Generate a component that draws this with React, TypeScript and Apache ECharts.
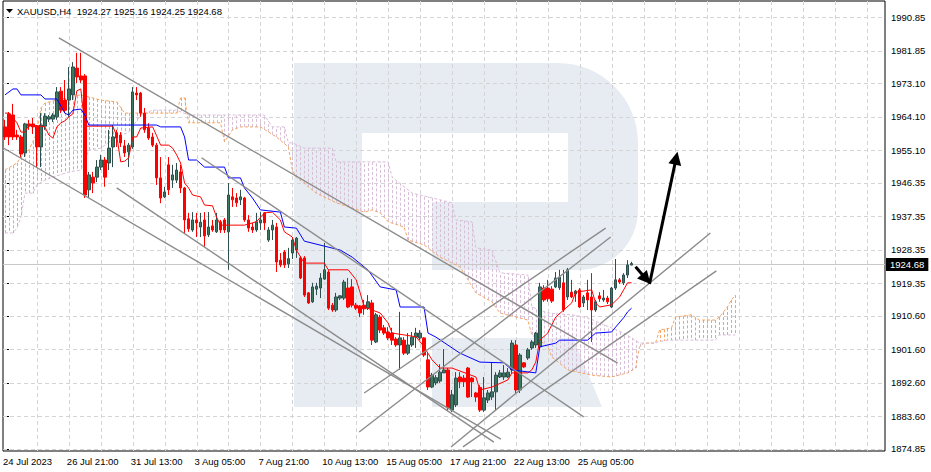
import React, { useEffect, useRef } from 'react';
import * as echarts from 'echarts';

const FONT = '"Liberation Sans", Arial, sans-serif';

const symbolName = 'XAUUSD,H4';

const xLabels = ['24 Jul 2023', '26 Jul 21:00', '31 Jul 13:00', '3 Aug 05:00', '7 Aug 21:00', '10 Aug 13:00', '15 Aug 05:00', '17 Aug 21:00', '22 Aug 13:00', '25 Aug 05:00'];
const xLabelBars = [0, 16, 32, 48, 64, 80, 96, 112, 128, 144];

const yTicks = [1990.85, 1981.85, 1973.1, 1964.1, 1955.1, 1946.35, 1937.35, 1928.35, 1919.35, 1910.6, 1901.6, 1892.6, 1883.6, 1874.85];

// [open, close, low, high]
const candles = [
  [1961.4, 1958.7, 1957.9, 1963.3], [1964.9, 1958.7, 1956.5, 1965.4], [1964.6, 1958.7, 1957.9, 1967.6], [1959.2, 1958.7, 1957.9, 1960.6],
  [1958.7, 1954.1, 1953.1, 1959.2], [1954.4, 1962.2, 1953.3, 1962.5], [1962.2, 1961.6, 1960.6, 1963.3], [1962.2, 1961.4, 1959.5, 1963.8],
  [1961.6, 1956.0, 1950.6, 1961.9], [1956.0, 1961.9, 1950.6, 1965.1], [1961.6, 1964.3, 1960.6, 1965.1], [1963.5, 1964.1, 1962.7, 1964.6],
  [1963.5, 1964.6, 1962.7, 1965.1], [1964.1, 1970.8, 1963.3, 1972.1], [1971.0, 1965.9, 1965.1, 1972.1], [1968.6, 1965.9, 1965.1, 1974.0],
  [1968.6, 1971.6, 1964.1, 1977.5], [1970.0, 1977.5, 1968.6, 1978.8], [1977.2, 1974.8, 1973.2, 1981.3], [1975.1, 1974.0, 1973.2, 1981.3],
  [1975.1, 1943.1, 1942.3, 1975.6], [1944.5, 1948.5, 1942.3, 1949.3], [1947.9, 1946.3, 1943.6, 1949.3], [1947.9, 1950.6, 1946.6, 1952.5],
  [1950.6, 1952.5, 1949.8, 1953.9], [1952.5, 1947.9, 1945.3, 1953.3], [1951.7, 1955.7, 1949.8, 1960.6], [1956.0, 1958.7, 1950.6, 1961.9],
  [1959.8, 1958.4, 1956.0, 1960.6], [1959.2, 1957.1, 1956.0, 1960.0], [1956.3, 1954.4, 1953.3, 1957.9], [1954.7, 1956.5, 1950.6, 1957.1],
  [1956.0, 1970.8, 1955.5, 1972.1], [1970.5, 1970.0, 1968.6, 1972.1], [1970.5, 1965.1, 1964.1, 1970.8], [1965.1, 1960.6, 1959.8, 1966.5],
  [1961.1, 1958.4, 1957.9, 1962.4], [1958.7, 1956.5, 1956.0, 1959.8], [1956.5, 1947.7, 1945.8, 1957.1], [1947.7, 1942.3, 1940.9, 1953.3],
  [1942.6, 1943.9, 1942.3, 1945.3], [1951.2, 1944.5, 1943.1, 1953.3], [1947.1, 1948.5, 1945.0, 1951.2], [1947.1, 1949.8, 1946.3, 1951.7],
  [1949.3, 1945.0, 1943.6, 1951.2], [1945.0, 1936.4, 1932.9, 1945.3], [1936.7, 1934.0, 1933.2, 1938.3], [1933.7, 1936.4, 1933.2, 1938.5],
  [1936.4, 1935.6, 1931.8, 1938.3], [1934.5, 1935.8, 1931.8, 1938.3], [1936.4, 1932.1, 1929.2, 1938.5], [1932.4, 1934.5, 1931.8, 1938.5],
  [1934.8, 1933.7, 1933.2, 1936.4], [1933.2, 1936.4, 1932.9, 1938.3], [1935.9, 1933.7, 1932.9, 1936.4], [1936.4, 1933.7, 1932.9, 1936.9],
  [1933.2, 1943.1, 1923.0, 1946.3], [1942.6, 1941.8, 1939.9, 1945.0], [1942.3, 1941.0, 1939.9, 1943.6], [1941.8, 1942.6, 1940.4, 1944.5],
  [1942.3, 1936.4, 1935.9, 1942.6], [1936.4, 1934.2, 1933.2, 1937.7], [1934.5, 1933.7, 1932.9, 1935.6], [1933.7, 1935.9, 1933.2, 1938.3],
  [1935.6, 1936.4, 1933.7, 1938.5], [1938.3, 1935.6, 1933.7, 1938.5], [1931.0, 1933.7, 1930.5, 1934.5], [1933.7, 1935.0, 1931.0, 1936.4],
  [1934.5, 1925.1, 1922.4, 1935.6], [1925.6, 1924.3, 1923.7, 1927.5], [1927.8, 1924.3, 1923.5, 1928.3], [1924.6, 1926.0, 1923.5, 1928.9],
  [1927.5, 1931.0, 1925.9, 1931.8], [1928.3, 1931.5, 1926.2, 1931.8], [1926.2, 1920.8, 1920.5, 1926.7], [1926.2, 1916.2, 1915.7, 1926.7],
  [1916.8, 1914.1, 1913.8, 1917.0], [1914.4, 1918.4, 1914.1, 1919.5], [1917.8, 1918.6, 1916.2, 1919.5], [1918.1, 1920.8, 1915.4, 1922.1],
  [1920.5, 1923.0, 1920.3, 1930.2], [1922.4, 1912.7, 1912.2, 1923.0], [1913.5, 1912.2, 1911.7, 1914.1], [1912.2, 1915.7, 1911.7, 1916.8],
  [1915.4, 1916.0, 1914.9, 1916.2], [1915.4, 1919.7, 1914.9, 1920.3], [1918.1, 1913.0, 1912.7, 1920.8], [1918.4, 1913.5, 1912.9, 1920.5],
  [1913.5, 1912.7, 1912.2, 1914.1], [1913.3, 1911.4, 1910.3, 1913.5], [1913.5, 1912.5, 1910.9, 1914.9], [1912.7, 1914.4, 1912.2, 1916.2],
  [1914.1, 1904.1, 1902.8, 1914.9], [1903.6, 1910.9, 1903.3, 1911.4], [1910.3, 1906.8, 1906.0, 1910.9], [1907.4, 1906.0, 1905.5, 1908.2],
  [1906.3, 1904.7, 1904.1, 1907.6], [1906.0, 1904.1, 1902.8, 1907.4], [1904.4, 1902.8, 1902.3, 1904.9], [1902.8, 1904.7, 1896.1, 1911.7],
  [1904.1, 1900.6, 1900.1, 1904.9], [1900.6, 1902.8, 1900.1, 1906.0], [1902.8, 1904.9, 1902.3, 1906.3], [1904.9, 1906.0, 1902.0, 1907.4],
  [1904.7, 1906.0, 1904.1, 1906.8], [1904.7, 1900.1, 1899.6, 1904.9], [1898.8, 1891.5, 1890.7, 1900.6], [1891.5, 1894.7, 1891.2, 1895.3],
  [1892.6, 1894.0, 1892.0, 1894.7], [1893.1, 1895.5, 1892.6, 1897.6], [1895.3, 1896.1, 1895.3, 1901.7], [1896.1, 1885.9, 1885.3, 1896.6],
  [1885.3, 1889.4, 1884.8, 1890.7], [1886.7, 1893.9, 1886.1, 1895.5], [1894.2, 1892.9, 1891.2, 1895.5], [1893.9, 1892.9, 1891.5, 1894.7],
  [1896.6, 1888.8, 1888.6, 1896.9], [1893.9, 1892.9, 1888.8, 1894.2], [1889.9, 1888.8, 1887.5, 1890.2], [1891.4, 1885.3, 1884.8, 1892.0],
  [1885.3, 1888.6, 1884.8, 1894.2], [1888.0, 1889.9, 1887.2, 1890.7], [1888.8, 1890.2, 1888.0, 1898.2], [1890.2, 1894.7, 1885.3, 1895.5],
  [1894.2, 1895.3, 1893.9, 1896.1], [1894.2, 1895.3, 1893.4, 1897.4], [1894.2, 1895.5, 1893.9, 1896.6], [1896.1, 1903.3, 1895.3, 1904.1],
  [1902.8, 1890.7, 1889.9, 1904.1], [1890.7, 1900.1, 1889.9, 1900.6], [1898.0, 1896.9, 1896.6, 1898.2], [1899.3, 1901.5, 1898.8, 1902.0],
  [1902.0, 1903.6, 1901.5, 1904.1], [1902.8, 1906.0, 1902.0, 1906.3], [1902.3, 1918.4, 1902.0, 1919.5], [1918.1, 1914.9, 1914.4, 1918.9],
  [1918.1, 1915.2, 1914.4, 1920.3], [1917.8, 1914.6, 1914.1, 1918.6], [1918.4, 1920.8, 1918.1, 1922.4], [1918.2, 1921.0, 1917.6, 1923.0],
  [1919.5, 1912.2, 1911.7, 1923.0], [1915.7, 1923.0, 1914.9, 1923.5], [1917.0, 1915.7, 1915.4, 1920.3], [1916.5, 1917.3, 1914.4, 1917.6],
  [1917.6, 1913.0, 1912.7, 1918.1], [1914.1, 1915.7, 1913.0, 1916.2], [1916.8, 1914.9, 1912.2, 1920.3], [1915.7, 1912.2, 1903.6, 1922.1],
  [1912.2, 1914.4, 1911.7, 1914.9], [1916.0, 1915.2, 1914.4, 1917.0], [1914.9, 1915.4, 1914.4, 1917.6], [1915.4, 1914.4, 1913.8, 1916.0],
  [1913.0, 1918.1, 1912.7, 1918.4], [1918.1, 1920.3, 1917.6, 1925.9], [1920.3, 1919.7, 1919.2, 1920.8], [1919.5, 1921.6, 1918.9, 1922.1],
  [1921.6, 1924.3, 1920.8, 1925.6], [1924.27, 1924.68, 1924.25, 1925.16],
];

// Ichimoku lines: [bar, price] vertices
const tenkan = [
  [0, 1965.1], [1, 1965.1], [3, 1962.5], [4, 1960.0], [5, 1960.0], [6, 1961.9], [7, 1961.9], [10, 1961.4], [11, 1959.2], [12, 1958.4],
  [13, 1961.4], [14, 1962.5], [15, 1963.0], [16, 1964.1], [17, 1964.9], [18, 1971.1], [19, 1971.6], [20, 1961.6], [27, 1961.6], [28, 1959.0],
  [29, 1952.0], [30, 1952.2], [31, 1953.1], [32, 1958.7], [33, 1958.7], [34, 1961.1], [37, 1961.4], [38, 1959.0], [39, 1956.5], [41, 1956.5],
  [42, 1955.7], [43, 1953.9], [44, 1951.7], [45, 1946.3], [46, 1945.0], [47, 1943.1], [49, 1942.6], [50, 1940.4], [52, 1940.2], [53, 1937.2],
  [54, 1935.0], [60, 1935.0], [63, 1935.9], [65, 1938.3], [67, 1938.5], [69, 1936.4], [70, 1933.2], [72, 1931.8], [73, 1928.3], [75, 1924.8],
  [80, 1924.8], [81, 1923.0], [86, 1923.0], [88, 1920.3], [89, 1916.8], [90, 1913.0], [94, 1911.4], [96, 1908.7], [97, 1906.0], [103, 1905.0],
  [105, 1902.3], [107, 1898.8], [109, 1896.6], [112, 1896.6], [118, 1894.2], [119, 1890.7], [122, 1891.5], [126, 1893.4], [127, 1895.3], [131, 1895.3],
  [132, 1896.1], [133, 1898.2], [134, 1904.1], [136, 1906.0], [138, 1910.3], [140, 1912.2], [142, 1914.1], [143, 1917.0], [147, 1917.6], [148, 1914.1],
  [149, 1913.0], [152, 1913.6], [154, 1915.7], [155, 1917.6], [156, 1919.5], [157, 1919.5],
];
const kijun = [
  [0, 1970.0], [2, 1971.6], [3, 1971.6], [4, 1970.0], [9, 1970.0], [10, 1968.9], [13, 1968.9], [15, 1965.1], [16, 1964.6], [17, 1965.9],
  [19, 1966.2], [20, 1964.6], [21, 1961.9], [38, 1961.9], [39, 1961.4], [44, 1961.4], [45, 1958.7], [46, 1952.5], [48, 1952.5], [50, 1950.6],
  [55, 1950.6], [56, 1947.7], [59, 1947.7], [60, 1945.0], [62, 1942.3], [64, 1939.1], [69, 1938.5], [70, 1934.5], [73, 1934.2], [75, 1930.7],
  [84, 1928.3], [87, 1926.4], [91, 1922.9], [94, 1918.4], [98, 1917.6], [99, 1913.0], [105, 1913.0], [106, 1906.0], [108, 1904.9], [114, 1900.6],
  [119, 1898.2], [125, 1898.0], [127, 1896.1], [133, 1895.3], [134, 1902.3], [138, 1903.3], [139, 1904.1], [146, 1904.1], [148, 1906.0], [152, 1906.3],
  [153, 1907.6], [155, 1910.1], [156, 1911.7], [157, 1912.7],
];
const spanA = [
  [0, 1949.8], [3, 1951.7], [4, 1953.3], [6, 1955.2], [8, 1959.8], [9, 1966.5], [10, 1967.8], [13, 1968.6], [16, 1969.4], [19, 1970.0],
  [24, 1968.6], [28, 1968.1], [30, 1965.1], [43, 1965.1], [44, 1969.2], [45, 1969.2], [46, 1962.5], [54, 1962.5], [55, 1957.4], [57, 1960.6],
  [59, 1961.4], [64, 1961.4], [68, 1958.7], [71, 1956.0], [72, 1949.8], [73, 1947.9], [78, 1943.6], [83, 1941.0], [90, 1938.5], [92, 1939.1],
  [94, 1938.3], [96, 1935.9], [100, 1934.5], [101, 1931.0], [105, 1929.7], [109, 1926.4], [114, 1923.8], [116, 1920.3], [118, 1916.8], [122, 1914.4],
  [124, 1911.4], [131, 1909.5], [132, 1905.5], [134, 1904.1], [136, 1902.3], [137, 1899.6], [141, 1896.1], [147, 1894.7], [152, 1894.2], [156, 1895.3],
  [158, 1896.6], [159, 1902.3], [160, 1903.3], [163, 1903.3], [164, 1906.8], [167, 1907.4], [168, 1910.3], [172, 1910.9], [174, 1909.5], [178, 1909.5],
  [179, 1910.3], [181, 1913.0], [182, 1914.9], [183, 1916.2],
];
const spanB = [
  [0, 1932.9], [2, 1932.9], [3, 1934.2], [4, 1937.2], [5, 1943.6], [7, 1943.6], [8, 1945.8], [10, 1947.1], [12, 1947.9], [16, 1949.3],
  [19, 1949.8], [21, 1955.2], [24, 1955.7], [28, 1958.7], [31, 1960.0], [34, 1964.6], [37, 1965.9], [43, 1965.9], [46, 1964.6], [65, 1964.6],
  [67, 1961.4], [70, 1961.4], [71, 1957.1], [72, 1957.1], [75, 1955.7], [82, 1955.7], [83, 1952.0], [96, 1952.0], [97, 1947.9], [102, 1943.6],
  [106, 1942.6], [112, 1941.0], [113, 1936.4], [117, 1935.9], [118, 1928.9], [122, 1928.3], [124, 1922.2], [131, 1921.6], [132, 1913.0], [136, 1911.4],
  [142, 1910.9], [146, 1910.1], [155, 1906.0], [157, 1904.7], [159, 1903.3], [162, 1903.3], [166, 1904.1], [178, 1904.1], [179, 1905.5], [183, 1905.5],
];

// trend lines: [bar1, price1, bar2, price2]
const trendLines = [
  [13.5, 1985.3, 153.5, 1897.9],
  [-0.5, 1955.8, 124.25, 1877.5],
  [28, 1945.0, 122.5, 1876.7],
  [49.25, 1953.1, 145, 1883.5],
  [90, 1889.9, 150.5, 1934.2],
  [88.75, 1879.4, 151.75, 1931.8],
  [111.75, 1875.4, 176.75, 1932.9],
  [114.75, 1875.4, 178.25, 1922.7],
];
const arrows = [
  [158, 1923.8, 161.75, 1919.2],
  [161.5, 1919.2, 168.5, 1954.7],
];

const Y_MIN = 1874.31;
const Y_MAX = 1995.23;
const N_BARS = 221;
const CLOUD_END = 183;

const R_PATH = 'M294 63 H558 A80 80 0 0 1 638 143 V210 A60 60 0 0 1 578 270 H432 V202 H568 V133 H362 V407 H294 Z';
try {
  echarts.graphic.registerShape('rlogo', echarts.graphic.extendPath(R_PATH, {}) as any);
} catch (e) {}

const SANDY = '#F4A460';
const THISTLE = '#D8BFD8';
const GRIDC = '#d4d4d4';
const WM = '#e7ecf3';

function interpPx(pts: number[][], x: number): number | null {
  for (let k = 0; k < pts.length - 1; k++) {
    const [x0, y0] = pts[k];
    const [x1, y1] = pts[k + 1];
    if (x >= x0 - 0.01 && x <= x1 + 0.01) {
      if (Math.abs(x1 - x0) < 1e-6) return y0;
      return y0 + ((y1 - y0) * (x - x0)) / (x1 - x0);
    }
  }
  return null;
}

export default function App() {
  const ref = useRef<HTMLDivElement>(null);
  useEffect(() => {
    if (!ref.current) return;
    const chart = echarts.init(ref.current, null, { renderer: 'svg' });
    const last = candles[candles.length - 1];
    const lastPrice = last[1];
    const header = `${symbolName}  ${last[0].toFixed(2)} ${last[3].toFixed(2)} ${last[2].toFixed(2)} ${last[1].toFixed(2)}`;
    const candleData = candles.map((c, i) => [i, c[0], c[1], c[2], c[3]]);

    const option: any = {
      animation: false,
      backgroundColor: '#ffffff',
      textStyle: { fontFamily: FONT },
      grid: { left: 1, right: 46, top: 1, bottom: 21, show: true, borderColor: '#000', borderWidth: 1, backgroundColor: 'transparent' },
      xAxis: {
        type: 'value',
        min: -0.5,
        max: N_BARS - 0.5,
        axisLine: { show: false },
        axisTick: { show: false },
        splitLine: { show: false },
        axisLabel: {
          customValues: xLabelBars.map((b) => b - 0.5),
          formatter: (v: number) => {
            const k = xLabelBars.indexOf(Math.round(v + 0.5));
            return k >= 0 ? xLabels[k] : '';
          },
          align: 'left',
          margin: 5,
          fontSize: 9.5,
          color: '#000',
          fontFamily: FONT,
        },
      },
      yAxis: {
        type: 'value',
        position: 'right',
        min: Y_MIN,
        max: Y_MAX,
        axisLine: { show: false },
        splitLine: { show: false },
        axisTick: { show: true, customValues: yTicks, length: 4, lineStyle: { color: '#000' } },
        axisLabel: {
          customValues: yTicks,
          formatter: (v: number) => v.toFixed(2),
          margin: 6,
          fontSize: 9.5,
          color: '#000',
          fontFamily: FONT,
        },
      },
      graphic: [
        { type: 'rlogo', x: 0, y: 0, z: -10, silent: true, style: { fill: WM } },
        { type: 'polygon', z: -10, silent: true, shape: { points: [[432, 338], [573, 338], [602, 407], [432, 407]] }, style: { fill: WM } },
        { type: 'polygon', z: 10, silent: true, shape: { points: [[6, 9], [13, 9], [9.5, 13]] }, style: { fill: '#000' } },
        { type: 'text', z: 10, silent: true, x: 17, y: 11, style: { text: header, fontSize: 9.5, fontFamily: FONT, fill: '#000', verticalAlign: 'middle' } },
      ],
      series: [
        {
          type: 'custom',
          name: 'grid',
          z: 1,
          silent: true,
          data: [[0, yTicks[0]]],
          renderItem: (params: any, api: any) => {
            const cs = params.coordSys;
            const children: any[] = [];
            yTicks.forEach((v) => {
              const y = Math.round(api.coord([0, v])[1]) + 0.5;
              children.push({ type: 'line', shape: { x1: cs.x, y1: y, x2: cs.x + cs.width, y2: y }, style: { stroke: GRIDC, lineWidth: 1, lineDash: [4, 3] } });
            });
            for (let b = 8; b < N_BARS; b += 8) {
              const x = Math.round(api.coord([b, yTicks[0]])[0]) + 0.5;
              children.push({ type: 'line', shape: { x1: x, y1: cs.y, x2: x, y2: cs.y + cs.height }, style: { stroke: GRIDC, lineWidth: 1, lineDash: [4, 3] } });
            }
            return { type: 'group', children };
          },
        },
        {
          type: 'custom',
          name: 'kumo',
          z: 2,
          silent: true,
          data: [[0, spanA[0][1]]],
          renderItem: (params: any, api: any) => {
            const a = spanA.map((p) => api.coord(p));
            const b = spanB.map((p) => api.coord(p));
            const children: any[] = [];
            for (let i = 0; i <= CLOUD_END; i++) {
              const xr = api.coord([i, yTicks[0]])[0];
              const ya = interpPx(a, xr);
              const yb = interpPx(b, xr);
              if (ya == null || yb == null) continue;
              const x = Math.round(xr) + 0.5;
              children.push({
                type: 'line',
                shape: { x1: x, y1: ya, x2: x, y2: yb },
                style: { stroke: ya <= yb ? SANDY : THISTLE, lineWidth: 1, lineDash: [3, 2] },
              });
            }
            return { type: 'group', children };
          },
        },
        { type: 'line', name: 'Senkou A', z: 2, data: spanA, showSymbol: false, symbol: 'none', lineStyle: { color: SANDY, width: 1, type: [3, 2] } },
        { type: 'line', name: 'Senkou B', z: 2, data: spanB, showSymbol: false, symbol: 'none', lineStyle: { color: THISTLE, width: 1, type: [3, 2] } },
        {
          type: 'custom',
          name: 'price',
          z: 2,
          silent: true,
          data: [[0, lastPrice]],
          renderItem: (params: any, api: any) => {
            const cs = params.coordSys;
            const y = Math.round(api.coord([0, api.value(1)])[1]) + 0.5;
            return {
              type: 'group',
              children: [
                { type: 'line', shape: { x1: cs.x, y1: y, x2: cs.x + cs.width, y2: y }, style: { stroke: '#c8c8c8', lineWidth: 1 } },
                {
                  type: 'text',
                  x: cs.x + cs.width + 1,
                  y: y,
                  style: { text: Number(api.value(1)).toFixed(2), fill: '#fff', backgroundColor: '#000', padding: [2, 4, 1, 4], fontSize: 9.5, fontFamily: FONT, verticalAlign: 'middle', align: 'left' },
                },
              ],
            };
          },
        },
        {
          type: 'candlestick',
          name: symbolName,
          z: 3,
          data: candleData,
          encode: { x: 0, y: [1, 2, 3, 4] },
          barWidth: 3,
          itemStyle: { color: '#3b7a5e', color0: '#ff0000', borderColor: '#2f4f4f', borderColor0: '#ff0000', borderWidth: 1 },
        },
        { type: 'line', name: 'Tenkan-sen', z: 4, data: tenkan, showSymbol: false, symbol: 'none', lineStyle: { color: '#ff0000', width: 1 } },
        { type: 'line', name: 'Kijun-sen', z: 4, data: kijun, showSymbol: false, symbol: 'none', lineStyle: { color: '#0000ff', width: 1 } },
        {
          type: 'custom',
          name: 'trend',
          z: 5,
          silent: true,
          data: trendLines,
          renderItem: (params: any, api: any) => {
            const p1 = api.coord([api.value(0), api.value(1)]);
            const p2 = api.coord([api.value(2), api.value(3)]);
            return { type: 'line', shape: { x1: p1[0], y1: p1[1], x2: p2[0], y2: p2[1] }, style: { stroke: '#8c8c8c', lineWidth: 1.4 } };
          },
        },
        {
          type: 'custom',
          name: 'arrows',
          z: 6,
          silent: true,
          data: arrows,
          renderItem: (params: any, api: any) => {
            const p1 = api.coord([api.value(0), api.value(1)]);
            const p2 = api.coord([api.value(2), api.value(3)]);
            const dx = p2[0] - p1[0];
            const dy = p2[1] - p1[1];
            const len = Math.sqrt(dx * dx + dy * dy);
            const ux = dx / len;
            const uy = dy / len;
            const hl = 13;
            const hw = 6.5;
            const bx = p2[0] - ux * hl;
            const by = p2[1] - uy * hl;
            return {
              type: 'group',
              children: [
                { type: 'line', shape: { x1: p1[0], y1: p1[1], x2: bx + ux * 2, y2: by + uy * 2 }, style: { stroke: '#000', lineWidth: 3 } },
                { type: 'polygon', shape: { points: [[p2[0], p2[1]], [bx - uy * hw, by + ux * hw], [bx + uy * hw, by - ux * hw]] }, style: { fill: '#000' } },
              ],
            };
          },
        },
      ],
    };
    chart.setOption(option);
    return () => chart.dispose();
  }, []);
  return <div ref={ref} style={{ position: 'fixed', left: 0, top: 0, width: 931, height: 472 }} />;
}
